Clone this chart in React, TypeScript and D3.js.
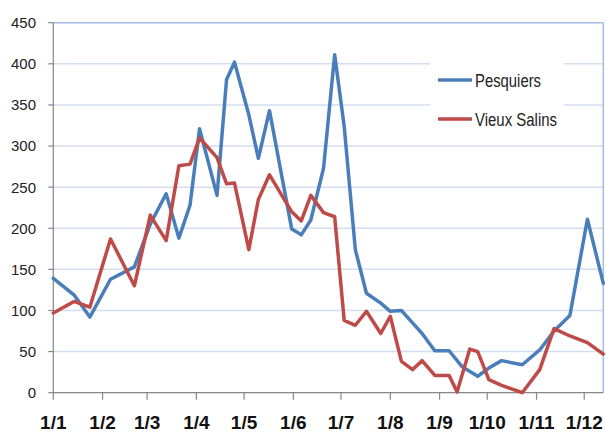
import React from 'react';
import * as d3 from 'd3';

// Pesquiers (blue) sampling dates and values
const pesquiersDates = [
  '01-01', '01-14', '01-24', '02-06', '02-21', '03-03', '03-13', '03-21', '03-28', '04-03',
  '04-14', '04-20', '04-25', '05-04', '05-10', '05-17', '05-31', '06-06', '06-12', '06-20',
  '06-27', '07-03', '07-10', '07-17', '07-26', '08-01', '08-08', '08-15', '08-21', '08-29',
  '09-07', '09-15', '09-25', '10-02', '10-10', '10-23', '11-03', '11-12', '11-22', '12-03', '12-13',
];
const pesquiersValues = [
  139, 119, 92, 138, 153, 205, 242, 188, 228, 321,
  240, 381, 402, 338, 285, 343, 199, 192, 210, 273,
  411, 324, 174, 121, 109, 99, 100, 85, 72, 51,
  51, 32, 20, 30, 39, 34, 52, 75, 94, 211, 133,
];

// Vieux Salins (red) sampling dates and values
const salinsDates = [
  '01-01', '01-14', '01-24', '02-06', '02-21', '03-03', '03-13', '03-21', '03-28', '04-03',
  '04-14', '04-20', '04-25', '05-04', '05-10', '05-17', '05-31', '06-06', '06-12', '06-20',
  '06-27', '07-03', '07-10', '07-17', '07-26', '08-01', '08-08', '08-15', '08-21', '08-29',
  '09-07', '09-12', '09-20', '09-25', '10-02', '10-10', '10-23', '11-03', '11-12', '11-22',
  '12-03', '12-13',
];
const salinsValues = [
  97, 111, 104, 187, 130, 216, 185, 276, 278, 310,
  286, 254, 255, 174, 235, 265, 220, 209, 240, 219,
  214, 88, 82, 99, 72, 93, 38, 28, 39, 21,
  21, 1, 53, 50, 16, 9, 0, 28, 78, 69,
  61, 47,
];

const yTicks = [0, 50, 100, 150, 200, 250, 300, 350, 400, 450];
const seriesNames = ['Pesquiers', 'Vieux Salins'];
const seriesColors = ['#4a7ebb', '#be4b48'];
const xStart = '01-01';
const xEnd = '12-13';

const parse = (s: string) => d3.timeParse('%Y-%m-%d')('2009-' + s) as Date;

const App: React.FC = () => {
  const width = 606;
  const height = 432;
  const margin = { left: 53.3, right: 2.7, top: 22.7, bottom: 39.3 };

  const x = d3.scaleTime()
    .domain([parse(xStart), parse(xEnd)])
    .range([margin.left, width - margin.right]);
  const y = d3.scaleLinear()
    .domain([0, 450])
    .range([height - margin.bottom, margin.top]);

  const series = [
    pesquiersDates.map((d, i) => ({ date: parse(d), v: pesquiersValues[i] })),
    salinsDates.map((d, i) => ({ date: parse(d), v: salinsValues[i] })),
  ];

  const line = d3.line<{ date: Date; v: number }>()
    .x(d => x(d.date))
    .y(d => y(d.v));

  const xTicks = x.ticks(d3.timeMonth.every(1) as d3.TimeInterval);
  const fmt = d3.timeFormat('%-d/%-m');
  const x0 = margin.left;
  const x1 = width - margin.right;
  const yBottom = y(0);
  const yTop = y(450);

  return (
    <svg width={width} height={height} style={{ position: 'absolute', left: 0, top: 0, background: '#fff' }}>
      {/* gridlines */}
      {yTicks.filter(t => t > 0 && t < 450).map(t => (
        <line key={t} x1={x0} x2={x1} y1={y(t)} y2={y(t)} stroke="#d3def1" strokeWidth={1.5} />
      ))}
      {/* plot border top/right */}
      <line x1={x0} x2={x1} y1={yTop} y2={yTop} stroke="#a3bce3" strokeWidth={1.5} />
      <line x1={x1} x2={x1} y1={yTop} y2={yBottom} stroke="#a3bce3" strokeWidth={1.5} />

      {/* legend background */}
      <rect x={430} y={50} width={134} height={90} fill="#fff" />

      {/* y axis */}
      <line x1={x0} x2={x0} y1={yTop} y2={yBottom} stroke="#868686" strokeWidth={1.2} />
      {yTicks.map(t => (
        <g key={t}>
          <line x1={x0 - 5} x2={x0} y1={y(t)} y2={y(t)} stroke="#868686" strokeWidth={1.2} />
          <text x={36} y={y(t)} dy="0.36em" textAnchor="end"
            fontFamily="Liberation Sans, Arial, sans-serif" fontSize={15} fill="#222">{t}</text>
        </g>
      ))}

      {/* x axis */}
      <line x1={x0} x2={x1} y1={yBottom} y2={yBottom} stroke="#868686" strokeWidth={1.2} />
      {xTicks.map(t => (
        <g key={t.getTime()}>
          <line x1={x(t)} x2={x(t)} y1={yBottom} y2={yBottom + 7} stroke="#868686" strokeWidth={1.2} />
          <text x={x(t)} y={429} textAnchor="middle"
            fontFamily="Liberation Sans, Arial, sans-serif" fontWeight="bold" fontSize={19} fill="#111">{fmt(t)}</text>
        </g>
      ))}

      {/* lines */}
      {series.map((s, i) => (
        <path key={seriesNames[i]} d={line(s) || ''} fill="none" stroke={seriesColors[i]}
          strokeWidth={3.5} strokeLinejoin="round" strokeLinecap="round" />
      ))}

      {/* legend */}
      {seriesNames.map((n, i) => (
        <g key={n} transform={`translate(0,${80 + i * 39})`}>
          <line x1={438} x2={472} y1={0} y2={0} stroke={seriesColors[i]} strokeWidth={3.5} />
          <text x={475} y={7} fontFamily="Liberation Sans, Arial, sans-serif" fontSize={18} fill="#222"
            textLength={i === 0 ? 66 : 82} lengthAdjust="spacingAndGlyphs">{n}</text>
        </g>
      ))}
    </svg>
  );
};

export default App;
